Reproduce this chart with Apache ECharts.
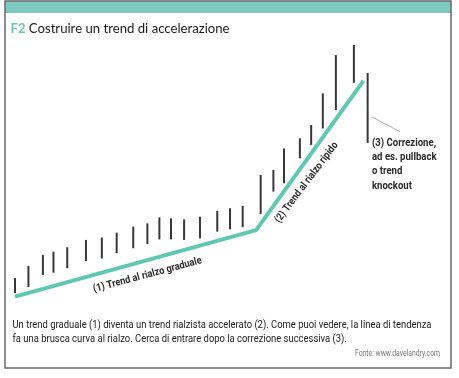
<!DOCTYPE html>
<html><head><meta charset="utf-8">
<script src="https://cdn.jsdelivr.net/npm/echarts@6/dist/echarts.min.js"></script>
<style>html,body{margin:0;padding:0;background:#fff}#c{width:459px;height:378px}</style>
</head><body><div id="c"></div>
<script>
// Price bars (high-low), x in "days", y in price units
const barDays  = [0, 3.8, 7.9, 10.9, 14.8, 20.1, 24.6, 28.8, 33.5, 37.5, 40.9, 44.2, 47.9, 52.4, 57.3, 60.9, 64.5, 69.6, 73.2, 76.2, 80.7, 83.9, 87.2, 90.9, 96.0, 99.9];
const barHighs = [8.5, 13.1, 17.3, 18.6, 20.3, 23.1, 24.0, 25.9, 28.2, 29.5, 31.8, 31.4, 31.0, 32.0, 34.3, 35.3, 36.2, 48.1, 50.0, 58.3, 62.2, 67.3, 79.5, 94.2, 98.1, 87.3];
const barLows  = [2.7, 5.0, 9.6, 10.5, 12.2, 15.0, 16.0, 18.0, 19.9, 21.5, 23.3, 23.3, 23.1, 23.7, 26.3, 27.2, 28.0, 33.1, 41.7, 44.9, 54.5, 59.6, 66.0, 73.1, 83.5, 60.4];
// Trend line (gradual then steep)
const trendDays   = [0, 68.3, 98.7];
const trendValues = [1.3, 26.9, 84.3];

const titleCode = 'F2';
const titleText = 'Costruire un trend di accelerazione';
const label1 = '(1) Trend al rialzo graduale';
const label2 = '(2) Trend al rialzo ripido';
const label3Lines = ['(3) Correzione,', 'ad es. pullback', 'o trend', 'knockout'];
const captionLines = ['Un trend graduale (1) diventa un trend rialzista accelerato (2). Come puoi vedere, la linea di tendenza',
                      'fa una brusca curva al rialzo. Cerca di entrare dopo la correzione successiva (3).'];
const source = 'Fonte: www.davelandry.com';

const barData = barDays.map((d, i) => [d, barLows[i], barHighs[i]]);
const trendData = trendDays.map((d, i) => [d, trendValues[i]]);

const ctx = document.createElement('canvas').getContext('2d');
function measure(text, font) { ctx.font = font; return ctx.measureText(text).width; }

const capFont = '11px Roboto, sans-serif';
const capScale = 419 / measure(captionLines[0], capFont);
const lblFont = 'bold 10.5px Roboto, sans-serif';
const l1Scale = 112 / measure(label1, lblFont);
const l2Scale = 98 / measure(label2, lblFont);
const annFont = 'bold 10.5px Roboto, sans-serif';
const annScale = 64.5 / measure(label3Lines[1], annFont);
const srcFont = '8.5px Roboto, sans-serif';
const srcScale = 85 / measure(source, srcFont);
const tFontA = 'bold 13.5px Lato, sans-serif';
const tFontB = '13.5px Lato, sans-serif';
const tScale = 219 / (measure(titleCode + ' ', tFontA) + measure(titleText, tFontB));

const graphics = [
  {type: 'rect', z: 0, shape: {x: 5, y: 1, width: 446, height: 12}, style: {fill: '#7ecabf'}},
  {type: 'rect', z: 10, shape: {x: 5, y: 1, width: 446, height: 367}, style: {fill: 'none', stroke: '#6a6a6a', lineWidth: 1.5}},
  {type: 'text', x: 10.5, y: 29, scaleX: tScale,
    style: {text: '{a|' + titleCode + '} {b|' + titleText + '}', verticalAlign: 'middle', align: 'left',
      rich: {a: {font: tFontA, fill: '#6cc6b8'}, b: {font: tFontB, fill: '#1a1a1a'}}}},
  {type: 'text', x: 147.5, y: 275, rotation: 15 * Math.PI / 180, scaleX: l1Scale,
    style: {text: label1, font: lblFont, fill: '#2a2a2a', align: 'center', verticalAlign: 'middle'}},
  {type: 'text', x: 306.7, y: 182.5, rotation: 53 * Math.PI / 180, scaleX: l2Scale,
    style: {text: label2, font: lblFont, fill: '#2a2a2a', align: 'center', verticalAlign: 'middle'}},
  {type: 'line', shape: {x1: 372, y1: 117, x2: 400, y2: 131.7}, style: {stroke: '#999', lineWidth: 0.8}},
  {type: 'text', x: 440, y: 353.5, scaleX: srcScale,
    style: {text: source, font: srcFont, fill: '#777', align: 'right', verticalAlign: 'middle'}}
];
label3Lines.forEach((t, i) => graphics.push({type: 'text', x: 372, y: 143 + i * 14.3, scaleX: annScale,
  style: {text: t, font: annFont, fill: '#2a2a2a', align: 'left', verticalAlign: 'middle'}}));
captionLines.forEach((t, i) => graphics.push({type: 'text', x: 12.5, y: 325.7 + i * 13.6, scaleX: capScale,
  style: {text: t, font: capFont, fill: '#222', align: 'left', verticalAlign: 'middle'}}));

const chart = echarts.init(document.getElementById('c'), null, {renderer: 'canvas'});
chart.setOption({
  animation: false,
  backgroundColor: '#fff',
  grid: {left: 15, right: 91, top: 40, bottom: 78},
  xAxis: {type: 'value', min: 0, max: 100, show: false},
  yAxis: {type: 'value', min: 0, max: 100, show: false},
  series: [
    {
      type: 'line', data: trendData, symbol: 'none', z: 2,
      lineStyle: {color: '#5fc8b2', width: 4}
    },
    {
      type: 'custom', data: barData, z: 3,
      encode: {x: 0, y: [1, 2]},
      renderItem: function (params, api) {
        const x = api.value(0);
        const p1 = api.coord([x, api.value(1)]);
        const p2 = api.coord([x, api.value(2)]);
        return {type: 'line', shape: {x1: p1[0], y1: p1[1], x2: p2[0], y2: p2[1]},
          style: {stroke: '#383838', lineWidth: 2}};
      }
    }
  ],
  graphic: graphics
});
</script>
</body></html>
